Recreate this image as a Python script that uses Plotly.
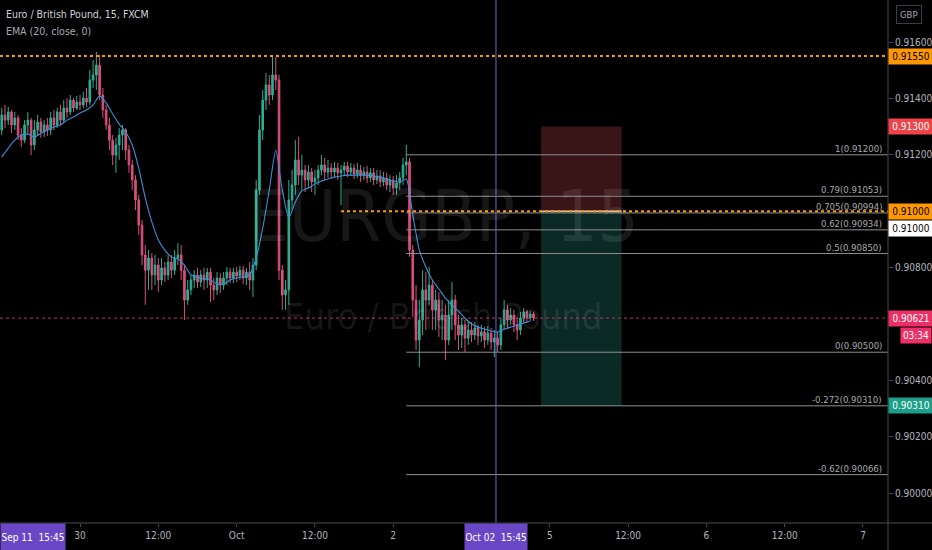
import pandas as pd
import plotly.graph_objects as go

FONT = "DejaVu Sans Condensed, Liberation Sans, sans-serif"

# ---------------- data (prices as 1e-5 units above 0.90000) ----------------
bar_start = "2020-09-29 12:00"      # 30-minute candles
opens_p = [1288,1341,1323,1352,1306,1331,1270,1252,1306,1323,
           1235,1288,1316,1281,1306,1288,1331,1306,1352,1323,
           1366,1352,1394,1366,1387,1377,1401,1387,1465,1483,
           1518,1412,1359,1306,1252,1199,1235,1270,1288,1217,
           1164,1111,1040,951,845,791,834,774,809,756,
           799,774,820,791,834,845,791,685,721,756,
           774,749,774,756,784,738,721,763,738,763,
           784,763,784,770,791,763,784,756,809,1075,
           1288,1394,1448,1412,1483,1465,791,703,721,1040,
           1093,1182,1128,1146,1111,1139,1104,1118,1146,1164,
           1139,1153,1139,1153,1136,1146,1160,1139,1153,1132,
           1146,1128,1139,1118,1136,1111,1125,1104,1118,1093,
           1111,1082,1100,1118,1164,1175,862,685,543,614,
           721,685,738,650,685,614,632,543,632,685,
           597,561,597,550,579,561,586,558,572,543,
           568,536,550,526,597,650,614,632,597,579,
           621,643,621,636]
highs_p = [1366,1377,1370,1359,1352,1341,1295,1323,1352,1331,
           1323,1341,1331,1323,1331,1352,1359,1366,1377,1394,
           1401,1412,1401,1409,1412,1423,1437,1501,1536,1565,
           1554,1437,1377,1331,1270,1260,1295,1306,1295,1235,
           1182,1128,1058,969,880,862,852,845,834,834,
           820,845,845,862,887,880,809,756,774,791,
           799,791,799,799,799,763,784,781,784,802,
           799,799,802,806,806,799,820,834,1111,1341,
           1430,1490,1483,1554,1547,1483,809,756,1111,1146,
           1252,1263,1199,1164,1164,1153,1146,1164,1199,1189,
           1182,1171,1175,1171,1164,1175,1175,1171,1167,1171,
           1164,1157,1160,1153,1153,1146,1146,1139,1136,1128,
           1125,1128,1139,1189,1235,1189,880,738,685,791,
           784,802,756,721,714,685,668,685,749,703,
           632,621,614,607,607,607,597,597,589,593,
           586,579,572,621,685,668,657,650,621,643,
           657,650,646,643]
lows_p = [1270,1295,1306,1277,1288,1252,1228,1242,1270,1199,
          1217,1270,1260,1263,1267,1270,1288,1295,1306,1313,
          1331,1341,1352,1359,1359,1366,1370,1377,1437,1430,
          1394,1331,1288,1217,1164,1136,1182,1217,1182,1136,
          1075,1004,916,809,668,721,721,738,714,738,
          749,756,763,774,809,756,614,668,703,728,
          728,731,721,728,678,685,703,710,721,738,
          745,745,749,756,742,738,721,696,791,1058,
          1252,1359,1377,1394,1430,756,650,650,668,1004,
          1058,1093,1075,1068,1082,1068,1058,1093,1128,1111,
          1118,1118,1121,1111,1022,1125,1121,1125,1114,1118,
          1104,1111,1100,1104,1093,1097,1086,1089,1075,1068,
          1058,1058,1075,1093,1128,838,625,508,448,561,
          579,668,579,579,554,543,472,526,579,543,
          508,515,501,526,536,543,526,536,515,526,
          508,483,501,508,579,586,597,572,543,561,
          607,604,611,611]
closes_p = [1341,1323,1352,1306,1331,1270,1252,1306,1323,1235,
            1288,1316,1281,1306,1288,1331,1306,1352,1323,1366,
            1352,1394,1366,1387,1377,1401,1387,1465,1483,1518,
            1412,1359,1306,1252,1199,1235,1270,1288,1217,1164,
            1111,1040,951,845,791,834,774,809,756,799,
            774,820,791,834,845,791,685,721,756,774,
            749,774,756,784,738,721,763,738,763,784,
            763,784,770,791,763,784,756,809,1075,1288,
            1394,1448,1412,1483,1465,791,703,721,1040,1093,
            1182,1128,1146,1111,1139,1104,1118,1146,1164,1139,
            1153,1139,1153,1136,1146,1160,1139,1153,1132,1146,
            1128,1139,1118,1136,1111,1125,1104,1118,1093,1111,
            1082,1100,1118,1164,1175,862,685,543,614,721,
            685,738,650,685,614,632,543,632,685,597,
            561,597,550,579,561,586,558,572,543,568,
            536,550,526,597,650,614,632,597,579,621,
            643,621,636,621]
ema_start = "2020-09-29 12:00"      # hourly EMA(20) readings
ema_p = [1192,1224,1252,1270,1274,1263,1277,1288,1299,1306,
         1323,1334,1348,1359,1377,1409,1384,1345,1309,1281,
         1235,1153,1047,962,898,862,838,831,809,774,
         767,760,756,742,742,756,763,767,774,834,
         940,1075,1217,1075,976,1033,1072,1082,1097,1107,
         1114,1121,1125,1128,1128,1128,1128,1125,1121,1114,
         1107,1104,1114,987,862,802,756,724,692,667,
         646,621,600,589,582,575,572,582,589,596,
         604,611]

# price-scale ticks (0.906 and 0.910 are covered by price labels in the reference)
y_ticks = [0.900, 0.902, 0.904, 0.908, 0.912, 0.914, 0.916]
y_tick_text = ["0.90000", "0.90200", "0.90400", "0.90800", "0.91200", "0.91400", "0.91600"]
x_tick_times = ["2020-09-30 00:00", "2020-09-30 12:00", "2020-10-01 00:00", "2020-10-01 12:00",
                "2020-10-02 00:00", "2020-10-02 12:00", "2020-10-05 00:00", "2020-10-05 12:00",
                "2020-10-06 00:00", "2020-10-06 12:00", "2020-10-07 00:00"]
x_tick_text = ["30", "12:00", "Oct", "12:00", "2", "", "5", "12:00", "6", "12:00", "7"]
x_view = ["2020-09-29 11:44", "2020-10-07 03:50"]
y_view = [0.898944, 0.91749]

fib_ratios = ["1", "0.79", "0.705", "0.62", "0.5", "0", "-0.272", "-0.62"]
fib_prices = [0.91200, 0.91053, 0.90994, 0.90934, 0.90850, 0.90500, 0.90310, 0.90066]
fib_start = "2020-10-02 02:00"

hline_high = 0.91550
hline_mid = 0.91000
hline_mid_start = "2020-10-01 16:00"
last_price = 0.90621
countdown = "03:34"
pos_start, pos_end = "2020-10-02 22:40", "2020-10-05 11:00"
pos_stop, pos_entry, pos_target = 0.91300, 0.91000, 0.90310
cursor_time = "2020-10-02 15:45"


# ---------------- helpers ----------------
def to_axis(t):
    """hours since 30 Sep 00:00 on a weekend-collapsed time axis"""
    t = pd.Timestamp(t)
    h = (t - pd.Timestamp("2020-09-30 00:00")) / pd.Timedelta(hours=1)
    if t >= pd.Timestamp("2020-10-03"):
        h -= 48
    return h


def px(v):
    return 0.9 + v / 1e5


bar_times = pd.date_range(bar_start, periods=len(closes_p), freq="30min")
bar_x = [to_axis(t) for t in bar_times]
ema_times = pd.date_range(ema_start, periods=len(ema_p), freq="h")
ema_x = [to_axis(t) for t in ema_times]

UP, DOWN = "#2fae93", "#d9507c"

fig = go.Figure()
fig.add_trace(go.Candlestick(
    x=bar_x,
    open=[px(v) for v in opens_p], high=[px(v) for v in highs_p],
    low=[px(v) for v in lows_p], close=[px(v) for v in closes_p],
    increasing=dict(line=dict(color=UP, width=1), fillcolor=UP),
    decreasing=dict(line=dict(color=DOWN, width=1), fillcolor=DOWN),
    whiskerwidth=0, showlegend=False, hoverinfo="skip",
))
fig.add_trace(go.Scatter(
    x=ema_x, y=[px(v) for v in ema_p], mode="lines",
    line=dict(color="#3a8fd8", width=1.1, shape="spline", smoothing=0.6),
    showlegend=False, hoverinfo="skip",
))

x0, x1 = to_axis(x_view[0]), to_axis(x_view[1])
shapes = []
# position tool
shapes.append(dict(type="rect", xref="x", yref="y", x0=to_axis(pos_start), x1=to_axis(pos_end),
                   y0=pos_entry, y1=pos_stop, fillcolor="#3a1517", line=dict(width=0), layer="below"))
shapes.append(dict(type="rect", xref="x", yref="y", x0=to_axis(pos_start), x1=to_axis(pos_end),
                   y0=pos_target, y1=pos_entry, fillcolor="#0b2a26", line=dict(width=0), layer="below"))
shapes.append(dict(type="line", xref="x", yref="y", x0=to_axis(pos_start), x1=to_axis(pos_end),
                   y0=pos_entry, y1=pos_entry, line=dict(color="#c8c8c8", width=1.5)))
# fib levels
for p in fib_prices:
    shapes.append(dict(type="line", xref="x", yref="y", x0=to_axis(fib_start), x1=x1,
                       y0=p, y1=p, line=dict(color="#8f8f8f", width=1)))
# horizontal lines
shapes.append(dict(type="line", xref="x", yref="y", x0=x0, x1=x1, y0=hline_high, y1=hline_high,
                   line=dict(color="#ff9800", width=2, dash="dot")))
shapes.append(dict(type="line", xref="x", yref="y", x0=to_axis(hline_mid_start), x1=x1,
                   y0=hline_mid, y1=hline_mid, line=dict(color="#ff9800", width=2, dash="dot")))
shapes.append(dict(type="line", xref="x", yref="y", x0=x0, x1=x1, y0=last_price, y1=last_price,
                   line=dict(color="#c2305e", width=1, dash="dot")))
# crosshair
cx = to_axis(cursor_time)
shapes.append(dict(type="line", xref="x", yref="paper", x0=cx, x1=cx, y0=0, y1=1,
                   line=dict(color="#6f63cf", width=1)))
# frame lines (price scale / time scale separators)
shapes.append(dict(type="line", xref="paper", yref="paper", x0=0, x1=932 / 888, y0=0, y1=0,
                   line=dict(color="#4a4a4a", width=1)))
shapes.append(dict(type="line", xref="paper", yref="paper", x0=1, x1=1, y0=-27 / 523, y1=1,
                   line=dict(color="#4a4a4a", width=1)))

ann = []
# header
ann.append(dict(text="Euro / British Pound, 15, FXCM", xref="paper", yref="paper", x=4 / 888, y=1 - 14 / 523,
                xanchor="left", yanchor="middle", showarrow=False, font=dict(family=FONT, size=10.5, color="#d1d4dc")))
ann.append(dict(text="EMA (20, close, 0)", xref="paper", yref="paper", x=4 / 888, y=1 - 31 / 523,
                xanchor="left", yanchor="middle", showarrow=False, font=dict(family=FONT, size=10.5, color="#a8abb4")))
# watermark
ann.append(dict(text="EURGBP, 15", xref="paper", yref="paper", x=443 / 888, y=1 - 216 / 523,
                xanchor="center", yanchor="middle", showarrow=False,
                font=dict(family=FONT, size=72, color="rgba(255,255,255,0.09)")))
ann.append(dict(text="Euro / British Pound", xref="paper", yref="paper", x=443 / 888, y=1 - 316 / 523,
                xanchor="center", yanchor="middle", showarrow=False,
                font=dict(family=FONT, size=36, color="rgba(255,255,255,0.09)")))
# fib labels
for r, p in zip(fib_ratios, fib_prices):
    ann.append(dict(text=f"{r}({p:.5f})", xref="paper", yref="y", x=884 / 888, y=p,
                    xanchor="right", yanchor="bottom", yshift=-1, showarrow=False,
                    font=dict(family=FONT, size=9.5, color="#a9a9a9")))


def price_label(y, text, bg, fg, yshift=0):
    ann.append(dict(text=text, xref="paper", yref="y", x=1, y=y, xanchor="left", yanchor="middle",
                    yshift=yshift, showarrow=False, bgcolor=bg, width=42, height=13, borderpad=1,
                    font=dict(family=FONT, size=10, color=fg)))


price_label(hline_high, f"{hline_high:.5f}", "#ff9800", "#000000")
price_label(pos_stop, f"{pos_stop:.5f}", "#ef4347", "#ffffff")
price_label(hline_mid, f"{hline_mid:.5f}", "#ff9800", "#000000")
price_label(pos_entry, f"{pos_entry:.5f}", "#ffffff", "#000000", yshift=-17)
price_label(last_price, f"{last_price:.5f}", "#ee2f66", "#ffffff")
price_label(pos_target, f"{pos_target:.5f}", "#1c9f88", "#ffffff")
ann.append(dict(text=countdown, xref="paper", yref="y", x=932 / 888, y=last_price, xanchor="right",
                yanchor="middle", yshift=-17, showarrow=False, bgcolor="#ee2f66", width=28, height=13,
                borderpad=1, font=dict(family=FONT, size=10, color="#ffffff")))
# currency button
ann.append(dict(text="GBP", xref="paper", yref="paper", x=909 / 888, y=1 - 15 / 523, xanchor="center",
                yanchor="middle", showarrow=False, bgcolor="#000000", bordercolor="#3a3d46", borderwidth=1,
                borderpad=3, font=dict(family=FONT, size=9.5, color="#a8abb4")))
# time labels on the time scale
ann.append(dict(text="Sep 11  15:45", xref="paper", yref="paper", x=0, y=0, xanchor="left", yanchor="top",
                showarrow=False, bgcolor="#6a47c6", width=62, height=24, borderpad=1,
                font=dict(family=FONT, size=10, color="#ffffff")))
ann.append(dict(text="Oct 02  15:45", xref="x", yref="paper", x=cx, y=0, xanchor="center", yanchor="top",
                showarrow=False, bgcolor="#6a47c6", width=60, height=24, borderpad=1,
                font=dict(family=FONT, size=10, color="#ffffff")))

fig.update_layout(
    width=932, height=550,
    margin=dict(l=0, r=44, t=0, b=27),
    paper_bgcolor="#000000", plot_bgcolor="#000000",
    shapes=shapes, annotations=ann,
    showlegend=False,
    xaxis=dict(range=[x0, x1], tickvals=[to_axis(t) for t in x_tick_times], ticktext=x_tick_text,
               showgrid=False, zeroline=False, showline=False, ticks="outside", ticklen=3,
               tickcolor="#4a4a4a", tickfont=dict(family=FONT, size=10, color="#b2b5be"),
               rangeslider=dict(visible=False), fixedrange=True),
    yaxis=dict(range=y_view, side="right", tickvals=y_ticks, ticktext=y_tick_text,
               showgrid=False, zeroline=False, showline=False, ticks="outside", ticklen=4,
               tickcolor="#4a4a4a", tickfont=dict(family=FONT, size=10, color="#b2b5be"), fixedrange=True),
)

fig.write_html("out.html", config={"displayModeBar": False, "staticPlot": True},
               post_script="document.body.style.margin='0';document.body.style.overflow='hidden';")
